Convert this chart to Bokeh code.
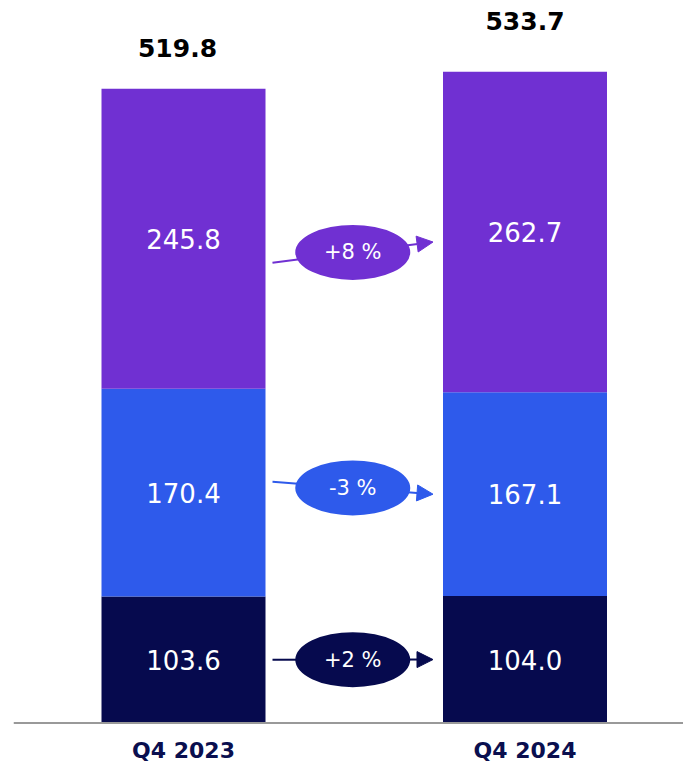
from bokeh.plotting import figure
from bokeh.models import ColumnDataSource, Range1d, Arrow, NormalHead, Span
from bokeh.core.properties import value
from bokeh.embed import file_html
from bokeh.resources import INLINE

# ---------------- data ----------------
categories = ["Q4 2023", "Q4 2024"]
bottom_vals = [103.6, 104.0]
middle_vals = [170.4, 167.1]
top_vals = [245.8, 262.7]
totals = [519.8, 533.7]
changes = ["+2 %", "-3 %", "+8 %"]

# ---------------- styles ----------------
colors = ["#060a4e", "#2e5aeb", "#7030d2"]
FONT = "DejaVu Sans"

W, H = 683, 763
PX_PER_UNIT = 1.22
BASE_PX = 722.5
LEFT_PX = 13
C0, C1 = 183.0, 524.5
step = C1 - C0
bw = 164.0 / step

x_range = Range1d((LEFT_PX - C0) / step, (W - C0) / step)
y_range = Range1d(-(H - BASE_PX) / PX_PER_UNIT, BASE_PX / PX_PER_UNIT)

p = figure(width=W, height=H, x_range=x_range, y_range=y_range,
           output_backend="svg", toolbar_location=None,
           min_border_left=LEFT_PX, min_border_right=0,
           min_border_top=0, min_border_bottom=0)
p.xaxis.visible = False
p.yaxis.visible = False
p.grid.visible = False
p.outline_line_color = None
p.background_fill_color = "white"
p.border_fill_color = "white"

xs = list(range(len(categories)))
series = [bottom_vals, middle_vals, top_vals]

# stacked bars
bottoms = [0.0] * len(xs)
mids = []
for vals, col in zip(series, colors):
    tops = [b + v for b, v in zip(bottoms, vals)]
    src = ColumnDataSource(dict(x=xs, bottom=bottoms, top=tops,
                                mid=[(b + t) / 2 for b, t in zip(bottoms, tops)],
                                label=[f"{v:.1f}" for v in vals]))
    p.vbar(x="x", bottom="bottom", top="top", width=bw, source=src,
           fill_color=col, line_color=None)
    p.text(x="x", y="mid", text="label", source=src, text_color="white",
           text_font=value(FONT), text_font_size="26px",
           text_align="center", text_baseline="middle")
    mids.append([(b + t) / 2 for b, t in zip(bottoms, tops)])
    bottoms = tops

# totals
tot_src = ColumnDataSource(dict(x=xs, y=totals, label=[f"{t:.1f}" for t in totals],
                                dx=[-6, 0], dy=[-41, -51]))
p.text(x="x", y="y", text="label", x_offset="dx", y_offset="dy", source=tot_src,
       text_color="black", text_font=value(FONT), text_font_style="bold",
       text_font_size="25px", text_align="center", text_baseline="middle")

# category labels
cat_src = ColumnDataSource(dict(x=xs, y=[0, 0], label=categories))
p.text(x="x", y="y", text="label", y_offset=27, source=cat_src,
       text_color="#0a0f4f", text_font=value(FONT), text_font_style="bold",
       text_font_size="22px", text_align="center", text_baseline="middle")

# baseline
p.add_layout(Span(location=0, dimension="width", line_color="#999999", line_width=2))

# change arrows + ellipses
offsets_px = [(0, 0), (-11, 0), (24, 10)]
x_start = 0 + bw / 2 + 7 / step
x_end = 1 - bw / 2 - 10 / step
for i, (col, lab) in enumerate(zip(colors, changes)):
    ys = mids[i][0] - offsets_px[i][0] / PX_PER_UNIT
    ye = mids[i][1] - offsets_px[i][1] / PX_PER_UNIT
    arr = Arrow(x_start=x_start, y_start=ys, x_end=x_end, y_end=ye,
                line_color=col, line_width=2, level="underlay",
                end=NormalHead(size=16, fill_color=col, line_color=col, line_width=1))
    p.add_layout(arr)
    cx, cy = (x_start + x_end) / 2, (ys + ye) / 2
    p.ellipse(x=[cx], y=[cy], width=115, height=55, width_units="screen",
              height_units="screen", fill_color=col, line_color=None)
    p.text(x=[cx], y=[cy], text=[lab], text_color="white",
           text_font=value(FONT), text_font_size="21px",
           text_align="center", text_baseline="middle")

open("out.html", "w").write(file_html(p, INLINE))
